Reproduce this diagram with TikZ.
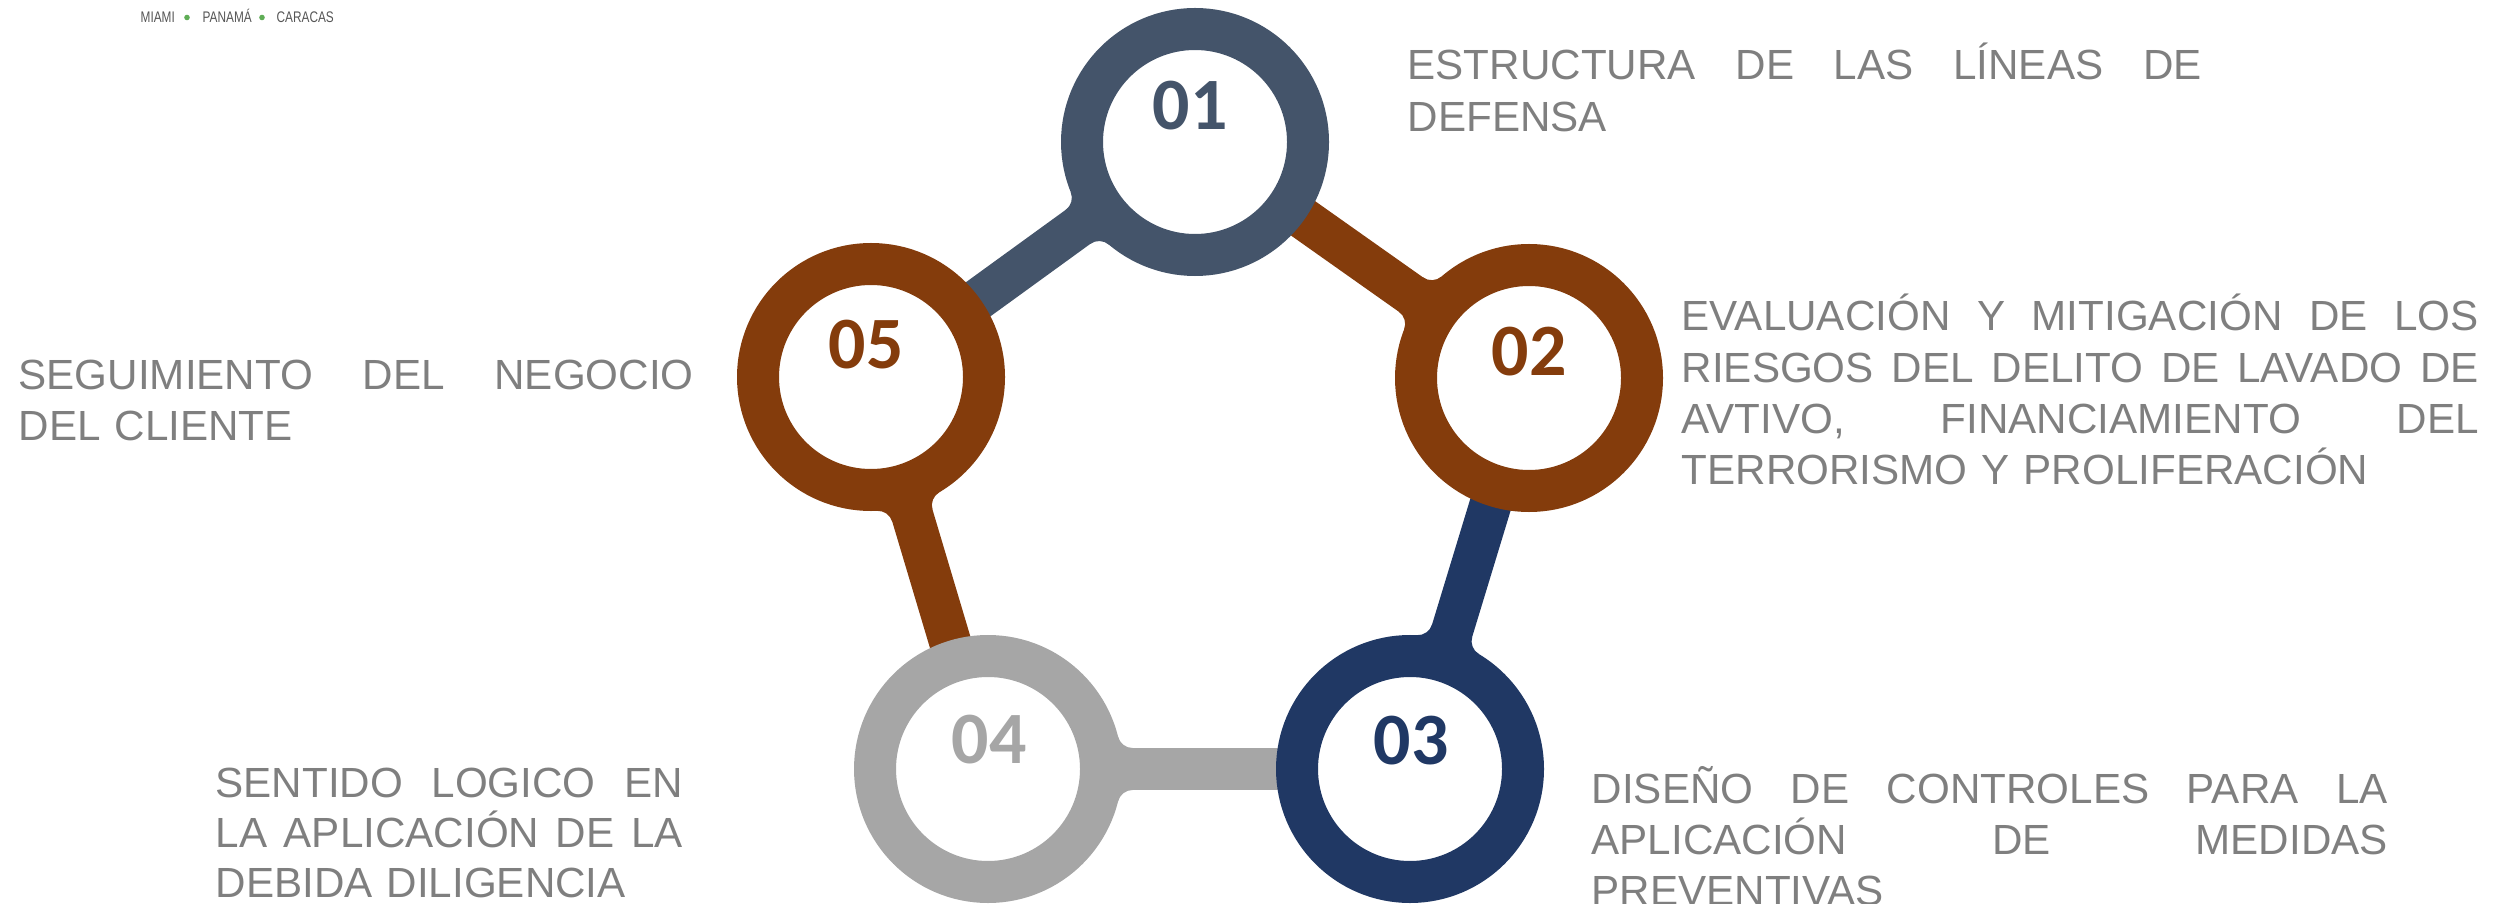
\documentclass[tikz,border=0pt]{standalone}
\usepackage{fontspec}
\usepackage{tikz}
\usepackage{tkz-euclide}
\setmainfont{Liberation Sans}
\newfontfamily\numfont{Carlito}
\newfontfamily\hdrfont[FakeStretch=0.77]{Liberation Sans}

\definecolor{slate}{HTML}{44546A}
\definecolor{rust}{HTML}{843C0C}
\definecolor{navy}{HTML}{203864}
\definecolor{ash}{HTML}{A6A6A6}
\definecolor{txtgray}{HTML}{7F7F7F}
\definecolor{hdrgray}{HTML}{555555}
\definecolor{dotgreen}{HTML}{5FAD56}

\tikzset{
  ring/.style={circle, draw=#1, line width=0.42cm, fill=white, minimum size=2.26cm, inner sep=0pt},
  bar/.style={line width=0.42cm, #1},
  num/.style={font=\numfont\bfseries\fontsize{21}{25}\selectfont, text=#1, inner sep=0pt},
  txt/.style={font=\fontsize{12}{14.6}\selectfont, text=txtgray, inner sep=0pt, anchor=base west, align=left},
  hdr/.style={font=\hdrfont\fontsize{4.37}{5}\selectfont, text=hdrgray, inner sep=0pt, anchor=base west},
}

% justified line: spaces stretch evenly to the given width
\newcommand{\jline}[2]{\makebox[#1][s]{\spaceskip=\fontdimen2\font plus 1fil\relax #2}}

\begin{document}
\begin{tikzpicture}
  \useasboundingbox (0,0) rectangle (25.01,-9.04);

  \tkzDefPoints{11.95/-1.42/A, 15.29/-3.78/B, 14.10/-7.69/C, 9.88/-7.69/D, 8.71/-3.77/E}

  % handles
  \draw[bar=slate] (A) -- (E);
  \draw[bar=rust] (B) -- (A);
  \draw[bar=navy] (C) -- (B);
  \draw[bar=ash] (D) -- (C);
  \draw[bar=rust] (E) -- (D);

  % fillets where a handle leaves its ring
  \foreach \p/\a/\c in {A/215.96/slate, B/144.75/rust, C/73.07/navy, D/0/ash, E/-73.38/rust}
    \foreach \m in {1,-1}
      \fill[\c, shift={(\p)}, rotate=\a, yscale=\m] (1.446,0.21)
        arc[start angle=-90, end angle=-166, radius=0.15] -- (1.1,0) -- (1.446,0) -- cycle;

  % rings
  \node[ring=slate] (c1) at (A) {};
  \node[ring=rust] (c2) at (B) {};
  \node[ring=navy] (c3) at (C) {};
  \node[ring=ash] (c4) at (D) {};
  \node[ring=rust] (c5) at (E) {};

  \node[num=slate] (n1) at (11.90,-1.06) {01};
  \node[num=rust] (n2) at (15.29,-3.52) {02};
  \node[num=navy] (n3) at (14.11,-7.41) {03};
  \node[num=ash] (n4) at (9.89,-7.40) {04};
  \node[num=rust] (n5) at (8.66,-3.45) {05};

  \node[txt, text width=7.94cm] (t1) at (14.07,-0.80)
    {\jline{7.94cm}{ESTRUCTURA DE LAS LÍNEAS DE}\\DEFENSA};
  \node[txt, text width=7.97cm] (t2) at (16.81,-3.31)
    {\jline{7.97cm}{EVALUACIÓN Y MITIGACIÓN DE LOS}\\
     \jline{7.97cm}{RIESGOS DEL DELITO DE LAVADO DE}\\
     \jline{7.97cm}{AVTIVO, FINANCIAMIENTO DEL}\\
     TERRORISMO Y PROLIFERACIÓN};
  \node[txt, text width=7.96cm] (t3) at (15.91,-8.03)
    {\jline{7.96cm}{DISEÑO DE CONTROLES PARA LA}\\
     \jline{7.96cm}{APLICACIÓN DE MEDIDAS}\\
     PREVENTIVAS};
  \node[txt, text width=4.67cm, font=\fontsize{12}{14.3}\selectfont] (t4) at (2.15,-7.97)
    {\jline{4.67cm}{SENTIDO LOGICO EN}\\
     \jline{4.67cm}{LA APLICACIÓN DE LA}\\
     DEBIDA DILIGENCIA};
  \node[txt, text width=6.75cm] (t5) at (0.18,-3.89)
    {\jline{6.75cm}{SEGUIMIENTO DEL NEGOCIO}\\DEL CLIENTE};

  \node[hdr] (miami) at (1.40,-0.23) {MIAMI};
  \node[hdr] (panama) at (2.02,-0.23) {PANAMÁ};
  \node[hdr] (caracas) at (2.76,-0.23) {CARACAS};
  \fill[dotgreen] (1.87,-0.175) circle (0.028);
  \fill[dotgreen] (2.62,-0.175) circle (0.028);

  % \draw[red] (A) -- (B) -- (C) -- (D) -- (E) -- cycle;
\end{tikzpicture}
\end{document}
